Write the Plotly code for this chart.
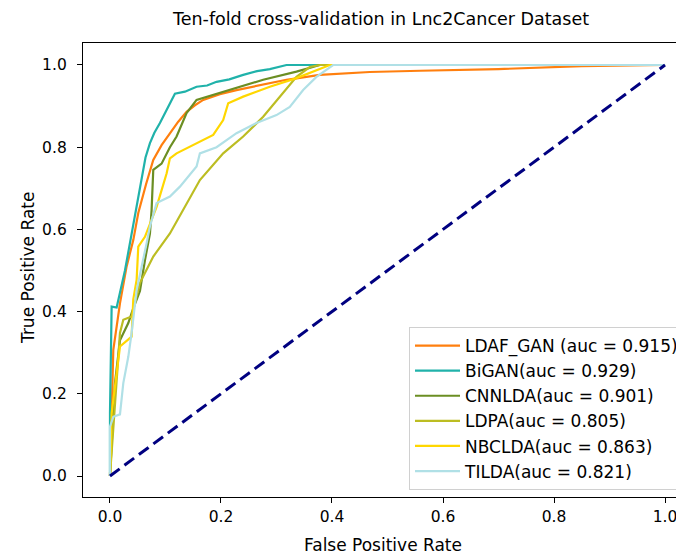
import plotly.graph_objects as go

names = ["LDAF_GAN (auc = 0.915)", "BiGAN(auc = 0.929)", "CNNLDA(auc = 0.901)",
         "LDPA(auc = 0.805)", "NBCLDA(auc = 0.863)", "TILDA(auc = 0.821)"]
colors = ["#ff7f0e", "#20b2aa", "#6b8e23", "#bcbd22", "#ffd700", "#b0e0e6"]

ldaf_fpr = [0.0, 0.006, 0.018, 0.03, 0.042, 0.051, 0.065, 0.078, 0.093, 0.108, 0.123, 0.138, 0.153, 0.168, 0.198, 0.228, 0.258, 0.318, 0.378, 0.468, 0.559, 0.70, 0.85, 1.0]
ldaf_tpr = [0.0, 0.307, 0.42, 0.51, 0.574, 0.64, 0.71, 0.769, 0.805, 0.834, 0.862, 0.886, 0.902, 0.915, 0.929, 0.939, 0.947, 0.964, 0.976, 0.983, 0.986, 0.99, 0.997, 1.0]

bigan_fpr = [0.0, 0.0, 0.003, 0.012, 0.027, 0.038, 0.048, 0.057, 0.064, 0.072, 0.08, 0.09, 0.103, 0.117, 0.135, 0.156, 0.175, 0.192, 0.215, 0.24, 0.265, 0.288, 0.318, 1.0]
bigan_tpr = [0.0, 0.153, 0.412, 0.41, 0.50, 0.58, 0.655, 0.72, 0.775, 0.81, 0.835, 0.859, 0.895, 0.93, 0.935, 0.947, 0.95, 0.959, 0.965, 0.976, 0.985, 0.99, 1.0, 1.0]

cnn_fpr = [0.0, 0.009, 0.018, 0.033, 0.041, 0.054, 0.063, 0.072, 0.075, 0.078, 0.093, 0.108, 0.12, 0.138, 0.156, 0.186, 0.228, 0.276, 0.336, 0.378, 1.0]
cnn_tpr = [0.0, 0.226, 0.33, 0.372, 0.404, 0.45, 0.525, 0.59, 0.647, 0.745, 0.76, 0.80, 0.826, 0.883, 0.915, 0.927, 0.944, 0.964, 0.984, 1.0, 1.0]

ldpa_fpr = [0.0, 0.018, 0.024, 0.039, 0.054, 0.078, 0.108, 0.132, 0.162, 0.204, 0.24, 0.276, 0.306, 0.336, 0.36, 0.378, 1.0]
ldpa_tpr = [0.0, 0.348, 0.38, 0.388, 0.47, 0.534, 0.59, 0.647, 0.72, 0.785, 0.826, 0.874, 0.923, 0.971, 0.995, 1.0, 1.0]

nbc_fpr = [0.0, 0.003, 0.012, 0.018, 0.039, 0.042, 0.048, 0.051, 0.063, 0.084, 0.102, 0.108, 0.12, 0.156, 0.186, 0.204, 0.213, 0.24, 0.288, 0.336, 0.396, 1.0]
nbc_tpr = [0.0, 0.153, 0.25, 0.315, 0.339, 0.43, 0.477, 0.558, 0.582, 0.655, 0.736, 0.773, 0.785, 0.81, 0.83, 0.866, 0.907, 0.923, 0.947, 0.968, 1.0, 1.0]

tilda_fpr = [0.0, 0.0, 0.006, 0.018, 0.024, 0.033, 0.039, 0.048, 0.066, 0.072, 0.084, 0.108, 0.126, 0.156, 0.162, 0.192, 0.228, 0.264, 0.30, 0.324, 0.348, 0.372, 0.402, 1.0]
tilda_tpr = [0.0, 0.12, 0.144, 0.15, 0.226, 0.29, 0.348, 0.452, 0.566, 0.607, 0.664, 0.68, 0.704, 0.753, 0.785, 0.80, 0.834, 0.859, 0.878, 0.898, 0.939, 0.971, 1.0, 1.0]

diag = [0.0, 1.0]

xs = [ldaf_fpr, bigan_fpr, cnn_fpr, ldpa_fpr, nbc_fpr, tilda_fpr]
ys = [ldaf_tpr, bigan_tpr, cnn_tpr, ldpa_tpr, nbc_tpr, tilda_tpr]

FONT = "DejaVu Sans"
OFF = 8  # page body margin
W, H = 684 - OFF, 556 - OFF
L, R, T, B = 83 - OFF, 0, 43 - OFF, 556 - 497
PW, PH = W - L - R, H - T - B


def px(x):
    return (x - OFF - L) / PW


def py(y):
    return (H - B - (y - OFF)) / PH


fig = go.Figure()
for i, (n, c, x, y) in enumerate(zip(names, colors, xs, ys)):
    fig.add_trace(go.Scatter(x=x, y=y, mode="lines", name=n,
                             line=dict(color=c, width=2.2)))
fig.add_trace(go.Scatter(x=diag, y=diag, mode="lines", showlegend=False,
                         line=dict(color="navy", width=3, dash="12px,6px")))

fig.update_layout(
    width=W, height=H,
    margin=dict(l=L, r=R, t=T, b=B, autoexpand=False),
    paper_bgcolor="white", plot_bgcolor="white",
    font=dict(family=FONT, size=15, color="black"),
    showlegend=True,
    legend=dict(x=px(409), y=py(327), xanchor="left", yanchor="top",
                bordercolor="#d0d0d0", borderwidth=1, bgcolor="rgba(255,255,255,0.85)",
                font=dict(family=FONT, size=17), itemwidth=45),
    annotations=[
        dict(text="Ten-fold cross-validation in Lnc2Cancer Dataset", x=px(380), y=py(19),
             xref="paper", yref="paper", showarrow=False, xanchor="center", yanchor="middle",
             font=dict(family=FONT, size=17.5)),
        dict(text="False Positive Rate", x=px(383), y=py(545),
             xref="paper", yref="paper", showarrow=False, xanchor="center", yanchor="middle",
             font=dict(family=FONT, size=17)),
        dict(text="True Positive Rate", x=px(28), y=py(268), textangle=-90,
             xref="paper", yref="paper", showarrow=False, xanchor="center", yanchor="middle",
             font=dict(family=FONT, size=17)),
    ],
)
fig.update_xaxes(range=[-0.0486, 1.0342], tickvals=[0, 0.2, 0.4, 0.6, 0.8, 1.0],
                 ticktext=["0.0", "0.2", "0.4", "0.6", "0.8", "1.0"],
                 showgrid=False, zeroline=False, showline=True, linecolor="black", linewidth=1.3,
                 mirror=True, ticks="outside", ticklen=5, tickcolor="black",
                 tickfont=dict(family=FONT, size=15.5))
fig.update_yaxes(range=[-0.0511, 1.0535], tickvals=[0, 0.2, 0.4, 0.6, 0.8, 1.0],
                 ticktext=["0.0", "0.2", "0.4", "0.6", "0.8", "1.0"],
                 showgrid=False, zeroline=False, showline=True, linecolor="black", linewidth=1.3,
                 ticks="outside", ticklen=5, tickcolor="black", ticklabelstandoff=7,
                 tickfont=dict(family=FONT, size=15.5))
fig.write_html("out.html")
